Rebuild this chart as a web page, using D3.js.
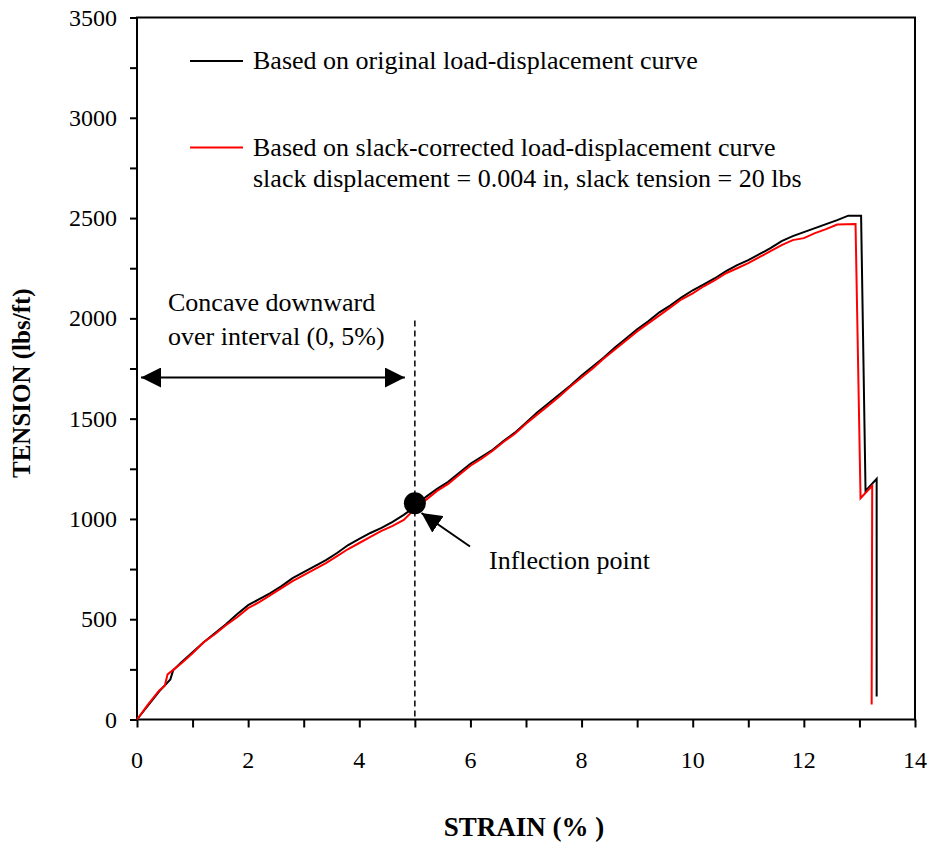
<!DOCTYPE html>
<html>
<head>
<meta charset="utf-8">
<script src="https://cdn.jsdelivr.net/npm/d3@7"></script>
<style>
  body { margin: 0; background: #fff; }
  svg text { font-family: "Liberation Serif", "Times New Roman", serif; }
</style>
</head>
<body>
<div id="main-diagram"></div>
<script>
// values (strain in %, tension in lbs/ft)
const originalStrain = [0, 0.2, 0.4, 0.6, 0.65, 0.8, 1.0, 1.2, 1.4, 1.6, 1.8, 2.0, 2.2, 2.4, 2.6, 2.8,
  3.0, 3.2, 3.4, 3.6, 3.8, 4.0, 4.2, 4.4, 4.6, 4.8, 5.0, 5.2, 5.4, 5.6, 5.8, 6.0, 6.2, 6.4, 6.6, 6.8,
  7.0, 7.2, 7.4, 7.6, 7.8, 8.0, 8.2, 8.4, 8.6, 8.8, 9.0, 9.2, 9.4, 9.6, 9.8, 10.0, 10.2, 10.4, 10.6,
  10.8, 11.0, 11.2, 11.4, 11.6, 11.8, 12.0, 12.2, 12.4, 12.6, 12.8, 13.03, 13.11, 13.31, 13.31];
const originalTension = [0, 70, 140, 200, 245, 285, 335, 385, 430, 475, 525, 570, 600, 630, 665, 705,
  735, 765, 795, 830, 870, 900, 930, 955, 985, 1020, 1060, 1110, 1150, 1185, 1230, 1275, 1310, 1345,
  1390, 1430, 1480, 1530, 1575, 1620, 1665, 1715, 1760, 1805, 1855, 1900, 1945, 1985, 2030, 2065,
  2105, 2140, 2170, 2200, 2235, 2265, 2290, 2320, 2350, 2385, 2410, 2430, 2450, 2470, 2490, 2512,
  2512, 1140, 1200, 115];

const correctedStrain = [0, 0.2, 0.4, 0.5, 0.55, 0.8, 1.0, 1.2, 1.4, 1.6, 1.8, 2.0, 2.2, 2.4, 2.6, 2.8,
  3.0, 3.2, 3.4, 3.6, 3.8, 4.0, 4.2, 4.4, 4.6, 4.8, 5.0, 5.2, 5.4, 5.6, 5.8, 6.0, 6.2, 6.4, 6.6, 6.8,
  7.0, 7.2, 7.4, 7.6, 7.8, 8.0, 8.2, 8.4, 8.6, 8.8, 9.0, 9.2, 9.4, 9.6, 9.8, 10.0, 10.2, 10.4, 10.6,
  10.8, 11.0, 11.2, 11.4, 11.6, 11.8, 12.0, 12.2, 12.4, 12.6, 12.93, 13.02, 13.23, 13.22];
const correctedTension = [0, 75, 145, 168, 225, 280, 330, 385, 425, 470, 510, 555, 585, 620, 655, 690,
  720, 750, 780, 815, 850, 880, 910, 940, 965, 995, 1050, 1095, 1140, 1175, 1220, 1265, 1300, 1340,
  1385, 1425, 1475, 1520, 1565, 1610, 1660, 1705, 1750, 1800, 1845, 1890, 1935, 1975, 2015, 2055,
  2095, 2125, 2160, 2190, 2225, 2250, 2275, 2305, 2335, 2365, 2390, 2400, 2425, 2445, 2468, 2470,
  1103, 1165, 75];

const xTickValues = [0, 2, 4, 6, 8, 10, 12, 14];
const yTickValues = [0, 500, 1000, 1500, 2000, 2500, 3000, 3500];

const legendLabels = [
  ["Based on original load-displacement curve"],
  ["Based on slack-corrected load-displacement curve",
   "slack displacement = 0.004 in, slack tension = 20 lbs"],
];
const seriesColours = ["#000000", "#ff0000"];

// inflection point and the concave interval
const inflectionStrain = 5;
const inflectionTension = 1078;
const concaveInterval = [0, 5];

// the plot box in pixels
const width = 933;
const height = 844;
const margin = { top: 17.5, right: 18, bottom: 124.5, left: 137 };
const plotWidth = width - margin.left - margin.right;
const plotHeight = height - margin.top - margin.bottom;
const textSize = "26px";

const svg = d3.select("#main-diagram")
  .append("svg")
  .attr("width", width)
  .attr("height", height);

const g = svg.append("g")
  .attr("transform", `translate(${margin.left},${margin.top})`);

const xScale = d3.scaleLinear().domain([0, 14]).range([0, plotWidth]);
const yScale = d3.scaleLinear().domain([0, 3500]).range([plotHeight, 0]);

drawAxes();
drawCurves();
drawLegend();
drawAnnotations();

/**
 * axes with outward ticks, minor ticks halfway, and a frame on top/right
 */
function drawAxes() {
  // all ticks (minor ones have no label)
  g.append("g")
    .attr("transform", `translate(0,${plotHeight})`)
    .call(d3.axisBottom(xScale).tickValues(d3.range(0, 15, 1)).tickSize(8).tickFormat(""))
    .call(a => a.select(".domain").remove())
    .selectAll("line").attr("stroke-width", 2);

  g.append("g")
    .call(d3.axisLeft(yScale).tickValues(d3.range(0, 3501, 250)).tickSize(7).tickFormat(""))
    .call(a => a.select(".domain").remove())
    .selectAll("line").attr("stroke-width", 2);

  // tick labels
  g.selectAll(".x-label")
    .data(xTickValues)
    .enter()
    .append("text")
    .attr("x", d => xScale(d))
    .attr("y", plotHeight + 48)
    .attr("text-anchor", "middle")
    .style("font-size", "24px")
    .text(d => d);

  g.selectAll(".y-label")
    .data(yTickValues)
    .enter()
    .append("text")
    .attr("x", -20)
    .attr("y", d => yScale(d) + 8)
    .attr("text-anchor", "end")
    .style("font-size", "24px")
    .text(d => d);

  // frame
  g.append("rect")
    .attr("width", plotWidth)
    .attr("height", plotHeight)
    .attr("fill", "none")
    .attr("stroke", "black")
    .attr("stroke-width", 2);

  // axis titles
  svg.append("text")
    .attr("x", 524)
    .attr("y", 836)
    .attr("text-anchor", "middle")
    .style("font-size", "27px")
    .style("font-weight", "bold")
    .text("STRAIN (% )");

  svg.append("text")
    .attr("transform", "translate(30,478) rotate(-90)")
    .attr("text-anchor", "start")
    .style("font-size", "25px")
    .style("font-weight", "bold")
    .text("TENSION (lbs/ft)");
}

/**
 * both tension curves
 */
function drawCurves() {
  const series = [
    d3.zip(originalStrain, originalTension),
    d3.zip(correctedStrain, correctedTension),
  ];
  const line = d3.line()
    .x(d => xScale(d[0]))
    .y(d => yScale(d[1]));

  series.forEach((pts, i) => {
    g.append("path")
      .datum(pts)
      .attr("d", line)
      .attr("fill", "none")
      .attr("stroke", seriesColours[i])
      .attr("stroke-width", 2)
      .attr("stroke-linejoin", "miter");
  });
}

function drawLegend() {
  const legendY = [61, 147.5];
  legendLabels.forEach((lines, i) => {
    svg.append("line")
      .attr("x1", 190).attr("x2", 243)
      .attr("y1", legendY[i]).attr("y2", legendY[i])
      .attr("stroke", seriesColours[i])
      .attr("stroke-width", 2);
    lines.forEach((t, j) => {
      svg.append("text")
        .attr("x", 253)
        .attr("y", legendY[i] + 8 + j * 31)
        .style("font-size", textSize)
        .text(t);
    });
  });
}

/**
 * dashed line at 5%, double arrow, inflection point marker and its pointer
 */
function drawAnnotations() {
  const defs = svg.append("defs");
  defs.append("marker")
    .attr("id", "head")
    .attr("viewBox", "0 0 20 20")
    .attr("refX", 20).attr("refY", 10)
    .attr("markerWidth", 20).attr("markerHeight", 20)
    .attr("markerUnits", "userSpaceOnUse")
    .attr("orient", "auto-start-reverse")
    .append("path")
    .attr("d", "M0,0 L20,10 L0,20 Z")
    .attr("fill", "black");

  g.append("line")
    .attr("x1", xScale(inflectionStrain)).attr("x2", xScale(inflectionStrain))
    .attr("y1", 303).attr("y2", plotHeight)
    .attr("stroke", "black")
    .attr("stroke-width", 1.5)
    .attr("stroke-dasharray", "6,4");

  // double headed arrow across the concave interval
  g.append("line")
    .attr("x1", xScale(concaveInterval[0]) + 4)
    .attr("x2", xScale(concaveInterval[1]) - 10)
    .attr("y1", 360).attr("y2", 360)
    .attr("stroke", "black")
    .attr("stroke-width", 2)
    .attr("marker-start", "url(#head)")
    .attr("marker-end", "url(#head)");

  svg.append("text")
    .attr("x", 168).attr("y", 311)
    .style("font-size", textSize)
    .text("Concave downward");
  svg.append("text")
    .attr("x", 168).attr("y", 345)
    .style("font-size", textSize)
    .text("over interval (0, 5%)");

  // pointer to the inflection point
  g.append("line")
    .attr("x1", 333).attr("y1", 529)
    .attr("x2", 284.5).attr("y2", 495.5)
    .attr("stroke", "black")
    .attr("stroke-width", 2)
    .attr("marker-end", "url(#head)");

  g.append("circle")
    .attr("cx", xScale(inflectionStrain))
    .attr("cy", yScale(inflectionTension))
    .attr("r", 11)
    .attr("fill", "black");

  svg.append("text")
    .attr("x", 489).attr("y", 569)
    .style("font-size", textSize)
    .text("Inflection point");
}
</script>
</body>
</html>
